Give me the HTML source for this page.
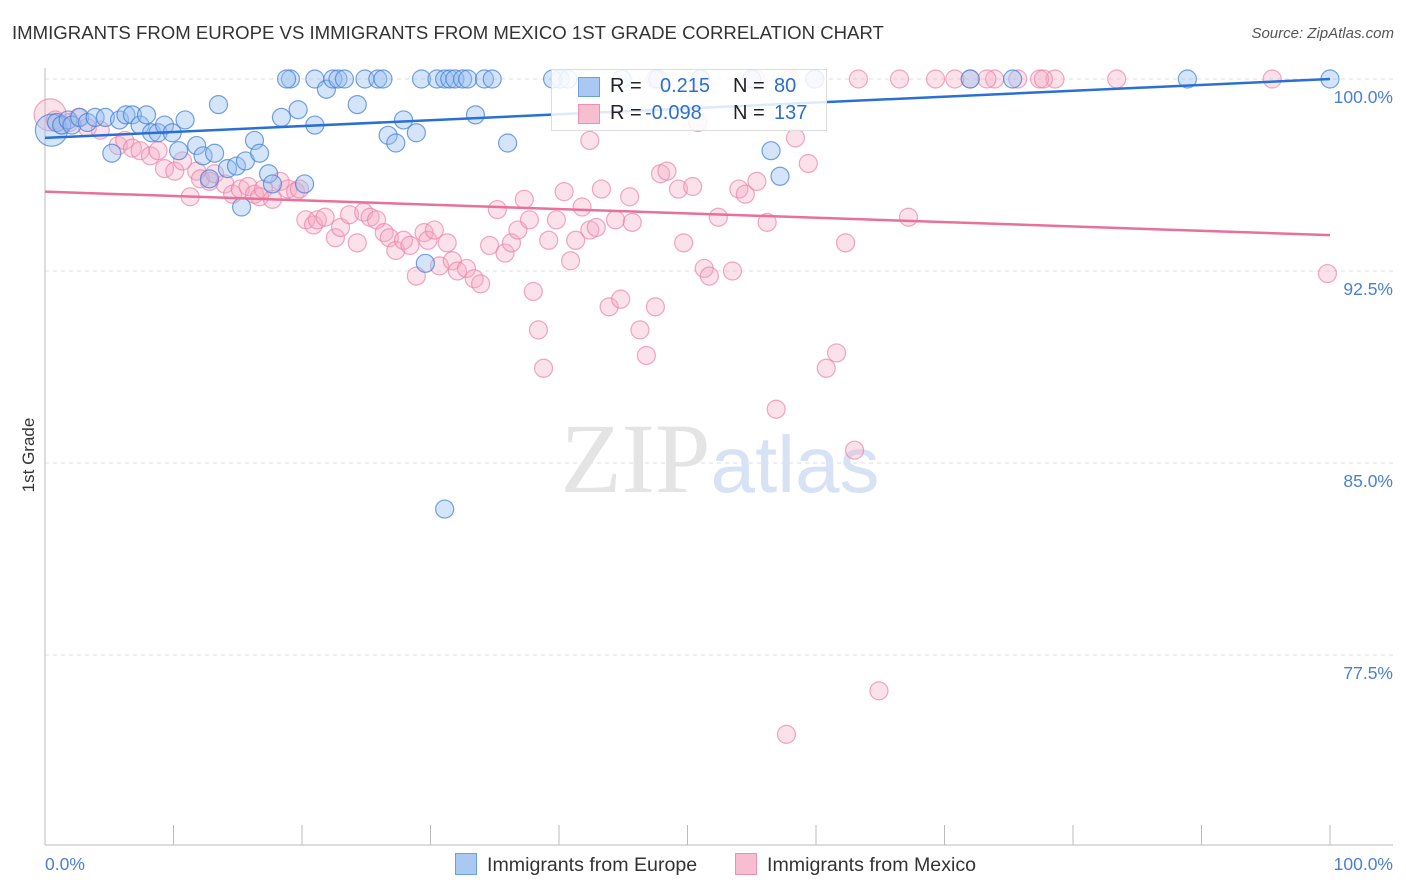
<!DOCTYPE html>
<html><head><meta charset="utf-8">
<style>
body{margin:0;background:#fff;font-family:"Liberation Sans",sans-serif;}
#wrap{position:relative;width:1406px;height:892px;overflow:hidden;}
.t{position:absolute;white-space:nowrap;}
</style></head>
<body>
<div id="wrap">
<div class="t" style="left:12px;top:22px;font-size:18.6px;color:#333;">IMMIGRANTS FROM EUROPE VS IMMIGRANTS FROM MEXICO 1ST GRADE CORRELATION CHART</div>
<div class="t" style="right:12px;top:25px;font-size:15px;color:#555;font-style:italic;">Source: ZipAtlas.com</div>
<svg id="svg" width="1406" height="892" style="position:absolute;left:0;top:0"></svg>
</div>
<script>
const xTickLabels=["0.0%","100.0%"];
const yTicks=[100,92.5,85,77.5];
const yTickLabels=["100.0%","92.5%","85.0%","77.5%"];
const europeX=[0.5,0.9,1.3,1.8,2.1,2.7,3.3,3.9,4.7,5.2,5.8,6.3,6.8,7.4,7.9,8.3,8.8,9.3,9.9,10.4,10.9,11.8,12.3,12.8,13.2,13.5,14.2,14.9,15.3,15.6,16.3,16.7,17.4,17.7,18.4,19.1,19.7,20.2,21.0,18.8,21.0,21.9,22.4,22.8,23.3,24.3,24.9,25.9,26.3,26.7,27.3,27.9,28.9,29.3,29.6,30.5,31.1,31.5,31.9,32.5,32.9,33.5,34.2,34.8,36.0,31.1,40.1,40.7,44.9,47.7,55.0,56.5,57.2,59.9,72.0,75.3,88.9,100,39.5,51.0];
const europeY=[98.0,98.3,98.2,98.4,98.2,98.5,98.3,98.5,98.5,97.1,98.4,98.6,98.6,98.2,98.6,97.9,97.9,98.2,97.9,97.2,98.4,97.4,97.0,96.1,97.1,99.0,96.5,96.6,95.0,96.8,97.6,97.1,96.3,95.9,98.5,100,98.8,95.9,98.2,100,100,99.6,100,100,100,99.0,100,100,100,97.8,97.5,98.4,97.9,100,92.8,100,100,100,100,100,100,98.6,100,100,97.5,83.2,100,100,100,100,100,97.2,96.2,100,100,100,100,100,100,100];
const mexicoX=[0.4,0.8,1.3,1.9,2.6,3.3,4.3,5.7,6.2,6.8,7.4,8.2,8.8,9.3,10.1,10.7,11.3,11.8,12.1,12.8,13.2,14.0,14.6,15.2,15.8,16.3,16.7,17.0,17.7,18.3,18.9,19.5,19.8,20.3,20.9,21.2,21.8,22.6,23.0,23.7,24.3,24.8,25.3,25.8,26.4,26.8,27.3,27.9,28.4,28.9,29.5,29.8,30.3,30.7,31.3,31.7,32.1,32.8,33.4,33.9,34.6,35.2,35.8,36.3,36.8,37.3,37.7,38.0,38.4,38.8,39.2,39.8,40.4,40.9,41.3,41.8,42.4,42.9,43.3,43.9,44.4,44.8,45.5,45.7,46.3,46.8,47.5,47.9,48.4,49.3,49.7,50.4,51.3,51.7,52.4,53.5,54.0,54.5,55.4,56.2,56.9,57.7,58.4,59.4,60.8,61.6,62.3,63.0,64.9,67.2,99.8,95.5,83.4,78.6,77.4,73.9,73.3,72.0,70.8,69.3,66.5,63.3,59.9,58.0,55.3,51.0,47.5,50.8,42.4,75.7,77.7];
const mexicoY=[98.6,98.4,98.2,98.3,98.5,98.1,98.0,97.4,97.6,97.3,97.2,97.0,97.2,96.5,96.4,96.8,95.4,96.4,96.1,96.0,96.3,95.9,95.5,95.7,95.8,95.5,95.4,95.7,95.3,96.0,95.7,95.6,95.7,94.5,94.3,94.5,94.6,93.8,94.2,94.7,93.6,94.8,94.6,94.5,94.0,93.8,93.3,93.7,93.5,92.3,94.0,93.7,94.1,92.7,93.6,92.9,92.5,92.6,92.2,92.0,93.5,94.9,93.2,93.6,94.1,95.3,94.5,91.7,90.2,88.7,93.7,94.5,95.6,92.9,93.7,95.0,94.1,94.2,95.7,91.1,94.5,91.4,95.4,94.4,90.2,89.2,91.1,96.3,96.4,95.7,93.6,95.8,92.6,92.3,94.6,92.5,95.7,95.5,96.0,94.4,87.1,74.4,97.7,96.7,88.7,89.3,93.6,85.5,76.1,94.6,92.4,100,100,100,100,100,100,100,100,100,100,100,100,100,100,100,100,98.3,97.6,100,100];
const europeTrend=[97.7,100.0];
const mexicoTrend=[95.6,93.9];

const X0=45,X1=1330,Y100=79,PXPER=25.6;
const sx=v=>X0+(X1-X0)*v/100;
const sy=v=>Y100+(100-v)*PXPER;
const svg=document.getElementById('svg');
const NS='http://www.w3.org/2000/svg';
function mk(tag,attrs,parent){const e=document.createElementNS(NS,tag);for(const k in attrs)e.setAttribute(k,attrs[k]);(parent||svg).appendChild(e);return e;}

yTicks.forEach((t,i)=>{
  const g=mk('line',{x1:X0,x2:1393,y1:sy(t),y2:sy(t),stroke:'#ddd','stroke-dasharray':'4,4'});
  
  
  const tx=mk('text',{x:1393,y:sy(t)+24,'text-anchor':'end','font-size':17.5,fill:'#4a7fd6','font-family':'Liberation Sans'});
  tx.textContent=yTickLabels[i];
  
  
});
const ax=mk('line',{x1:X0,x2:X0,y1:68,y2:845,stroke:'#bbb'});


const bx=mk('line',{x1:X0,x2:1393,y1:845,y2:845,stroke:'#bbb'});


for(let i=0;i<=10;i++){
  const tk=mk('line',{x1:sx(i*10),x2:sx(i*10),y1:825,y2:845,stroke:'#bbb'});
  
  
}
const wm=mk('text',{x:720,y:492,'text-anchor':'middle','font-size':100,fill:'#e4e4e4','font-family':'Liberation Serif'});
wm.innerHTML='ZIP<tspan fill="#d7e3f4" font-family="Liberation Sans" font-size="80">atlas</tspan>';



function dots(xs,ys,fill,stroke,name){
  xs.forEach((v,i)=>{
    const c=mk('circle',{cx:sx(v),cy:sy(ys[i]),r:i===0?16:9,fill:fill,stroke:stroke,'stroke-width':1.2});
    
    
  });
}
dots(mexicoX,mexicoY,'rgba(244,168,194,0.35)','rgba(236,130,165,0.7)','mexico-point');
dots(europeX,europeY,'rgba(150,190,240,0.4)','rgba(70,130,215,0.75)','europe-point');
const l1=mk('line',{x1:sx(0),x2:sx(100),y1:sy(europeTrend[0]),y2:sy(europeTrend[1]),stroke:'#2a6fd6','stroke-width':2.5});


const l2=mk('line',{x1:sx(0),x2:sx(100),y1:sy(mexicoTrend[0]),y2:sy(mexicoTrend[1]),stroke:'#e8709a','stroke-width':2.5});



const xl=mk('text',{x:45,y:870,'font-size':17.5,fill:'#4a7fd6','font-family':'Liberation Sans'});
xl.textContent=xTickLabels[0];


const xr=mk('text',{x:1393,y:870,'text-anchor':'end','font-size':17.5,fill:'#4a7fd6','font-family':'Liberation Sans'});
xr.textContent=xTickLabels[1];


const yt=mk('text',{x:34,y:455,'text-anchor':'middle','font-size':17,fill:'#333','font-family':'Liberation Sans',transform:'rotate(-90 34 455)'});
yt.textContent='1st Grade';


</script>
<div class="t" style="left:551px;top:69px;width:274px;height:60px;border:1px solid #ddd;background:rgba(255,255,255,0.85);font-size:20px;">
  <div style="position:absolute;left:26px;top:7px;width:20px;height:18px;background:#a9c8f2;border:1px solid #6a9fe0;"></div>
  <div style="position:absolute;left:58px;top:5px;color:#222;">R = </div>
  <div style="position:absolute;left:108px;top:5px;color:#2a6fd6;">0.215</div>
  <div style="position:absolute;left:181px;top:5px;color:#222;">N = </div>
  <div style="position:absolute;left:222px;top:5px;color:#2a6fd6;">80</div>
  <div style="position:absolute;left:26px;top:34px;width:20px;height:18px;background:#f7bdd0;border:1px solid #ef90b0;"></div>
  <div style="position:absolute;left:58px;top:32px;color:#222;">R = </div>
  <div style="position:absolute;left:93px;top:32px;color:#2a6fd6;">-0.098</div>
  <div style="position:absolute;left:181px;top:32px;color:#222;">N = </div>
  <div style="position:absolute;left:222px;top:32px;color:#2a6fd6;">137</div>
</div>
<div class="t" style="left:455px;top:853px;font-size:19.6px;color:#333;">
  <span style="display:inline-block;width:20px;height:20px;background:#a9c8f2;border:1px solid #6a9fe0;vertical-align:-4px;margin-right:10px;"></span>Immigrants from Europe</div>
<div class="t" style="left:735px;top:853px;font-size:19.6px;color:#333;">
  <span style="display:inline-block;width:20px;height:20px;background:#f7bdd0;border:1px solid #ef90b0;vertical-align:-4px;margin-right:10px;"></span>Immigrants from Mexico</div>
</body></html>
